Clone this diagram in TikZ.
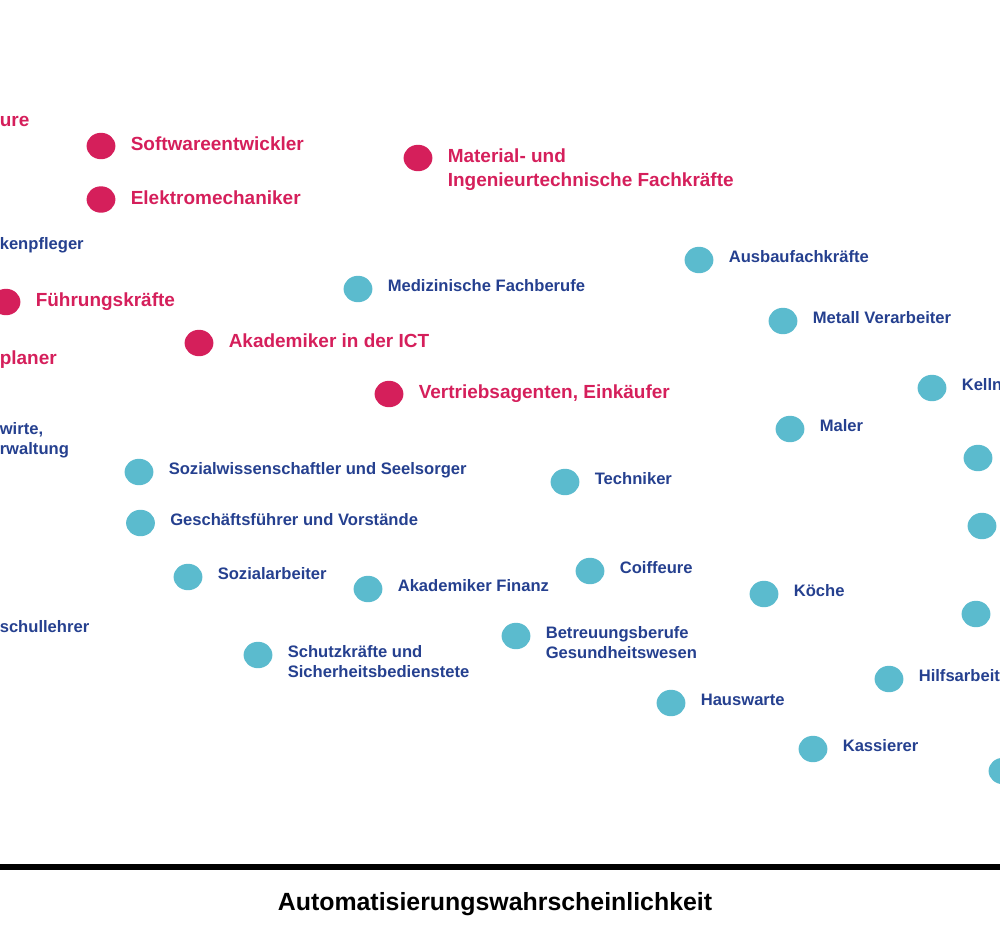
\documentclass[tikz,border=0pt]{standalone}
\usepackage{fontspec}
\setmainfont{Liberation Sans}
\usetikzlibrary{positioning}
\usetikzlibrary{shapes.geometric}
\definecolor{riskred}{RGB}{213,31,91}
\definecolor{riskdot}{RGB}{91,187,206}
\definecolor{riskblue}{RGB}{37,64,143}
\tikzset{
redpt/.style={ellipse, fill=riskred, inner sep=0pt, minimum width=0.72cm, minimum height=0.66cm},
bluept/.style={ellipse, fill=riskdot, inner sep=0pt, minimum width=0.72cm, minimum height=0.66cm},
redtxt/.style={anchor=base west, inner sep=0pt, align=left, text=riskred, font=\fontsize{13.5}{16.6}\selectfont\bfseries},
bluetxt/.style={anchor=base west, inner sep=0pt, align=left, text=riskblue, font=\fontsize{11.8}{14.2}\selectfont\bfseries},
redlbl/.style={redtxt, yshift=-0.118cm},
bluelbl/.style={bluetxt, yshift=-0.063cm},
% two lines: the base is the second line
twored/.style={redlbl, yshift=-0.583cm},
twoblue/.style={bluelbl, yshift=-0.5cm},
}
\begin{document}
\begin{tikzpicture}[x=0.025cm, y=-0.025cm]
\clip (0,0) rectangle (1000,929);
%Place the dots
\node[redpt] (sw) at (101,146) {};
\node[redpt] (em) at (101,199.5) {};
\node[redpt] (mi) at (418,158) {};
\node[redpt] (fk) at (6,302) {};
\node[redpt] (ict) at (199,343) {};
\node[redpt] (ve) at (389,394) {};

\node[bluept] (med) at (358,289) {};
\node[bluept] (aus) at (699,260) {};
\node[bluept] (met) at (783,321) {};
\node[bluept] (kel) at (932,388) {};
\node[bluept] (mal) at (790,429) {};
\node[bluept] (tec) at (565,482) {};
\node[bluept] (soz) at (139,472) {};
\node[bluept] (ges) at (140.5,523) {};
\node[bluept] (sa) at (188,577) {};
\node[bluept] (fin) at (368,589) {};
\node[bluept] (sch) at (258,655) {};
\node[bluept] (coi) at (590,571) {};
\node[bluept] (bet) at (516,636) {};
\node[bluept] (koe) at (764,594) {};
\node[bluept] (hau) at (671,703) {};
\node[bluept] (kas) at (813,749) {};
\node[bluept] (hil) at (889,679) {};
\foreach \i/\x/\y in {1/978/458, 2/982/526, 3/976/614, 4/1003/771} {
	\node[bluept] (rd\i) at (\x,\y) {};
}

%Labels next to the dots
\node[right=0.37cm of sw, redlbl] (swl) {Softwareentwickler};
\node[right=0.37cm of em, redlbl] (eml) {Elektromechaniker};
\node[right=0.37cm of mi, twored] (mil) {Material- und\\Ingenieurtechnische Fachkräfte};
\node[right=0.37cm of fk, redlbl] (fkl) {Führungskräfte};
\node[right=0.37cm of ict, redlbl] (ictl) {Akademiker in der ICT};
\node[right=0.37cm of ve, redlbl] (vel) {Vertriebsagenten, Einkäufer};

\node[right=0.37cm of med, bluelbl] (medl) {Medizinische Fachberufe};
\node[right=0.37cm of aus, bluelbl] (ausl) {Ausbaufachkräfte};
\node[right=0.37cm of met, bluelbl] (metl) {Metall Verarbeiter};
\node[right=0.37cm of kel, bluelbl] (kell) {Kelln};
\node[right=0.37cm of mal, bluelbl] (mall) {Maler};
\node[right=0.37cm of tec, bluelbl] (tecl) {Techniker};
\node[right=0.37cm of soz, bluelbl] (sozl) {Sozialwissenschaftler und Seelsorger};
\node[right=0.37cm of ges, bluelbl] (gesl) {Geschäftsführer und Vorstände};
\node[right=0.37cm of sa, bluelbl] (sal) {Sozialarbeiter};
\node[right=0.37cm of fin, bluelbl] (finl) {Akademiker Finanz};
\node[right=0.37cm of sch, twoblue] (schl) {Schutzkräfte und\\Sicherheitsbedienstete};
\node[right=0.37cm of coi, bluelbl] (coil) {Coiffeure};
\node[right=0.37cm of bet, twoblue] (betl) {Betreuungsberufe\\Gesundheitswesen};
\node[right=0.37cm of koe, bluelbl] (koel) {Köche};
\node[right=0.37cm of hau, bluelbl] (haul) {Hauswarte};
\node[right=0.37cm of kas, bluelbl] (kasl) {Kassierer};
\node[right=0.37cm of hil, bluelbl] (hill) {Hilfsarbeit};

%Labels cut at the left edge
\node[redtxt] (ure) at (-0.5,126) {ure};
\node[bluetxt] (kpf) at (-0.5,249) {kenpfleger};
\node[redtxt] (pla) at (-0.5,364) {planer};
\node[bluetxt] (wir) at (-0.5,454) {wirte,\\rwaltung};
\node[bluetxt] (sle) at (-0.5,632) {schullehrer};

%Axis
\coordinate (axl) at (0,867);
\coordinate (axr) at (1000,867);
\draw[line width=0.15cm] (axl) -- (axr);
\node[anchor=base, inner sep=0pt, font=\fontsize{17.7}{20}\selectfont\bfseries] (axt) at (495,910) {Automatisierungswahrscheinlichkeit};
\end{tikzpicture}
\end{document}
